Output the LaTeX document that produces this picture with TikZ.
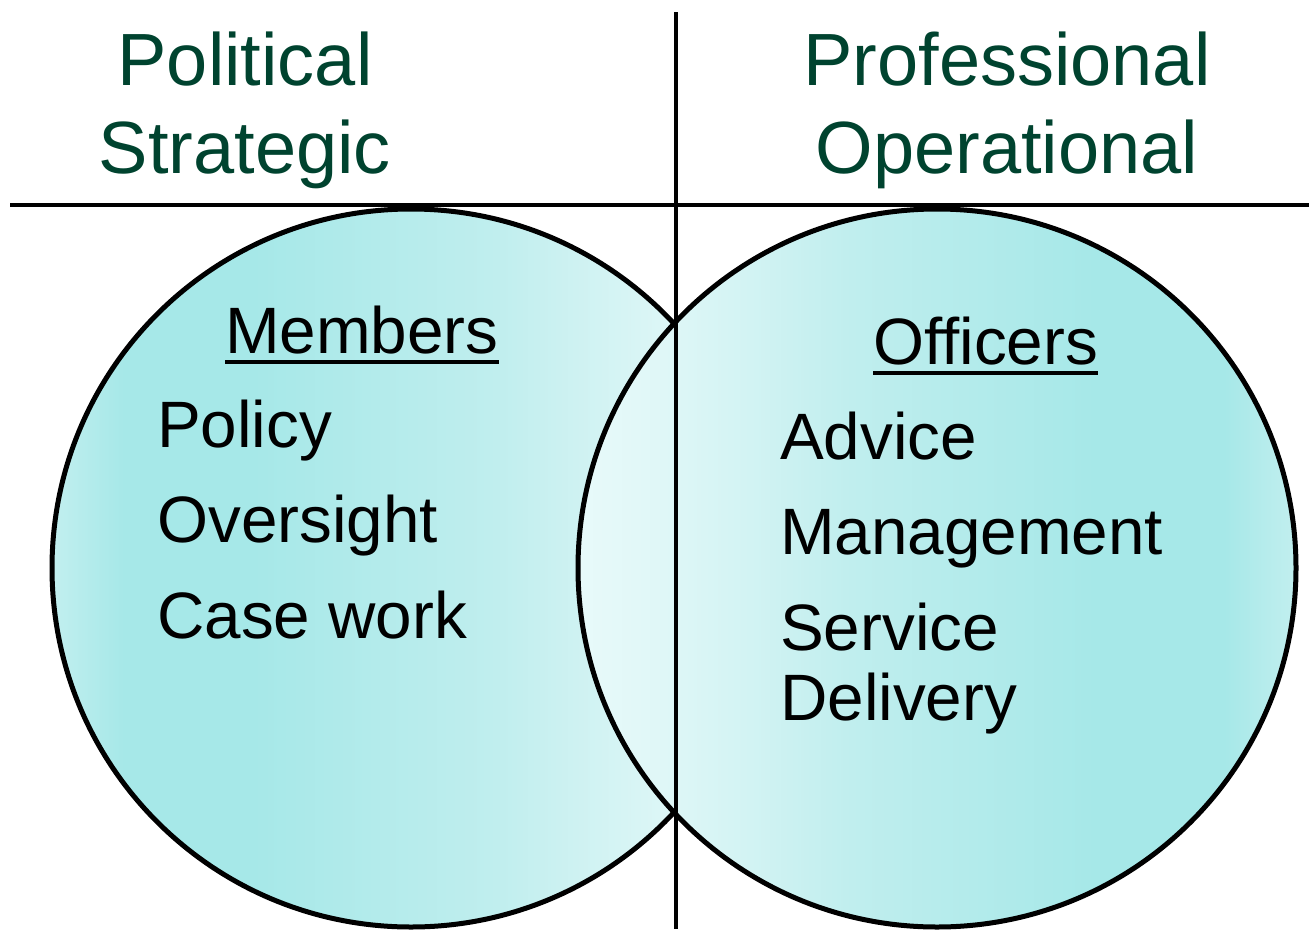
\documentclass[tikz,border=0pt]{standalone}
\usepackage{fontspec}
\setmainfont{Liberation Sans}
\usepackage{xcolor}
\usepackage{tikz}

\definecolor{headgreen}{HTML}{00432F}
\definecolor{vennedge}{HTML}{C2EFEF}
\definecolor{venndark}{HTML}{A6E8E8}
\definecolor{vennmid}{HTML}{C0EEEE}
\definecolor{vennlight}{HTML}{D2F3F3}
\definecolor{vennpale}{HTML}{DFF7F7}
\definecolor{vennwhite}{HTML}{E8FAFA}
\pgfdeclarehorizontalshading{vennfill}{100bp}{%
  color(0bp)=(vennedge); color(25bp)=(vennedge); color(30bp)=(venndark);
  color(39bp)=(venndark); color(56bp)=(vennmid); color(63bp)=(vennlight);
  color(69bp)=(vennpale); color(75bp)=(vennwhite); color(100bp)=(vennwhite)}

\begin{document}
\begin{tikzpicture}[x=1pt, y=-1pt,
    venn/.style={line width=5pt, draw=black, shading=vennfill},
    divider/.style={line width=3.5pt},
    headtext/.style={anchor=base, inner sep=0pt, align=center, text=headgreen,
      font=\fontsize{74}{88}\selectfont},
    itemtext/.style={anchor=base west, inner sep=0pt, align=left,
      font=\fontsize{65.6}{95.5}\selectfont},
    ul/.style={line width=4pt}]
    \useasboundingbox (0,0) rectangle (1309,929);

    % two circles
    \draw[venn] (411,568) circle [radius=359pt];
    \draw[venn, shading angle=180] (937,568) circle [radius=359pt];

    % dividing lines
    \draw[divider] (10,205) -- (1309,205);
    \draw[divider] (676,12) -- (676,929);

    % headings (anchored on the last line)
    \node[headtext] (political) at (245,173) {Political\\Strategic};
    \node[headtext] (professional) at (1007,173) {Professional\\Operational};

    % members side
    \node[itemtext] (members) at (225,353) {Members};
    \draw[ul] ([yshift=-9pt]members.base west) -- ([yshift=-9pt]members.base east);
    \node[itemtext] (memberlist) at (157,638) {Policy\\Oversight\\Case work};

    % officers side
    \node[itemtext] (officers) at (873,364) {Officers};
    \draw[ul] ([yshift=-9pt]officers.base west) -- ([yshift=-9pt]officers.base east);
    \node[itemtext] (officerlist) at (780,720) {Advice\\Management\\Service\\[-25.5pt]Delivery};
\end{tikzpicture}
\end{document}
